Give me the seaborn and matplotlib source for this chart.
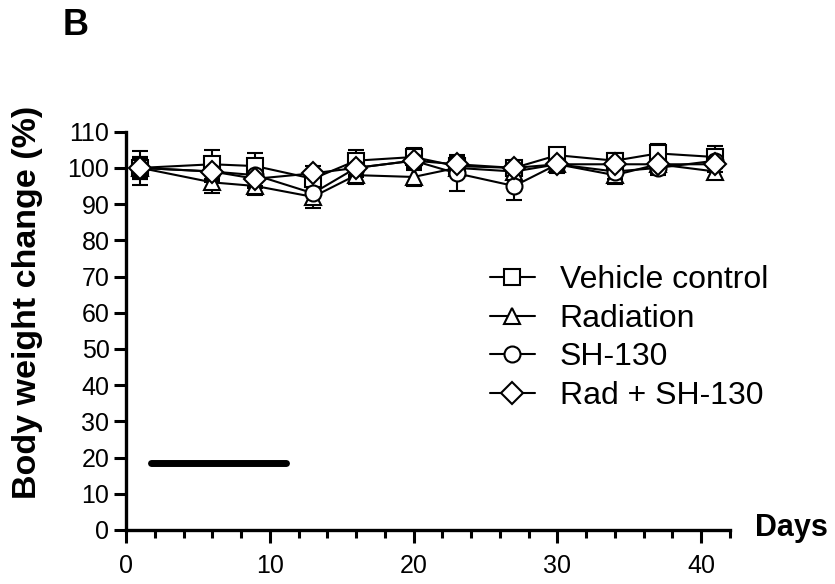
import numpy as np
import pandas as pd
import matplotlib
matplotlib.use("Agg")
import matplotlib.pyplot as plt
from matplotlib.ticker import MultipleLocator
import seaborn as sns

# 測定日
days = [1, 6, 9, 13, 16, 20, 23, 27, 30, 34, 37, 41]

# 体重変化(%) 平均値
vehicle = [100, 101, 100.5, 97, 102, 103, 100.5, 100, 103.5, 102, 104, 103]
radiation = [100, 96, 95, 92, 98, 97.5, 100, 99, 101, 98, 101, 99]
sh130 = [100, 99, 98, 93, 100, 102, 98.5, 95, 101, 99, 100, 102]
rad_sh130 = [100, 99, 97, 98.5, 100, 102, 101, 100, 101, 101, 101, 101]

# 誤差 (SEM)
vehicle_err = [4.7, 4, 3.5, 2, 3, 2.5, 2, 2, 2, 2, 2.5, 3]
radiation_err = [3, 3, 2.5, 3, 2.5, 2.5, 2, 2, 2.5, 2.5, 2.5, 2]
sh130_err = [3, 3, 3, 3, 2.5, 2.5, 5, 4, 2, 2, 2, 2]
rad_sh130_err = [2.5, 2.5, 2.5, 2, 2, 2, 2, 2, 2, 2, 2, 2]

groups = ["Vehicle control", "Radiation", "SH-130", "Rad + SH-130"]
group_markers = {"Vehicle control": "s", "Radiation": "^", "SH-130": "o", "Rad + SH-130": "D"}

# 投与期間バー
bar_start, bar_end, bar_y = 1.7, 11.1, 18.5

means = [vehicle, radiation, sh130, rad_sh130]
errs = [vehicle_err, radiation_err, sh130_err, rad_sh130_err]

df = pd.concat([
    pd.DataFrame({"Day": days, "Weight": m, "Err": e, "Group": g})
    for g, m, e in zip(groups, means, errs)
], ignore_index=True)

sns.set_style("ticks", {"text.color": "black", "axes.labelcolor": "black",
                        "xtick.color": "black", "ytick.color": "black",
                        "axes.edgecolor": "black"})
plt.rcParams["font.family"] = ["Liberation Sans", "DejaVu Sans"]

fig = plt.figure(figsize=(8.35, 5.84), dpi=100)
ax = fig.add_axes([0.151, 0.0925, 0.723, 0.682])

# エラーバー
for g in groups:
    sub = df[df["Group"] == g]
    ax.errorbar(sub["Day"], sub["Weight"], yerr=sub["Err"], fmt="none",
                ecolor="black", elinewidth=1.5, capsize=6, capthick=1.5, zorder=2)

sns.lineplot(data=df, x="Day", y="Weight", style="Group", markers=group_markers,
             dashes=False, color="black", linewidth=1.5, markersize=11.5,
             markerfacecolor="white", markeredgecolor="black", markeredgewidth=1.5,
             ax=ax, zorder=3)

ax.plot([bar_start, bar_end], [bar_y, bar_y], color="black", lw=5,
        solid_capstyle="round")

ax.set_xlim(0, 42)
ax.set_ylim(0, 110)
ax.xaxis.set_major_locator(MultipleLocator(10))
ax.xaxis.set_minor_locator(MultipleLocator(2))
ax.yaxis.set_major_locator(MultipleLocator(10))
ax.tick_params(axis="both", which="major", length=9, width=2.2, labelsize=18,
               direction="out", colors="black")
ax.tick_params(axis="x", which="minor", length=5.5, width=2.2, direction="out", colors="black")
ax.tick_params(axis="x", pad=8)
ax.tick_params(axis="y", pad=3)
sns.despine(ax=ax)
for s in ["left", "bottom"]:
    ax.spines[s].set_linewidth(2.4)
    ax.spines[s].set_color("black")

ax.set_xlabel("")
ax.set_ylabel("Body weight change (%)", fontsize=24.5, fontweight="bold", color="black")
ax.yaxis.set_label_coords(-0.137, 0.572)
fig.text(0.904, 0.096, "Days", fontsize=22, fontweight="bold", ha="left", va="center", color="black")
fig.text(0.075, 0.957, "B", fontsize=26, fontweight="bold", ha="left", va="center", color="black")

handles, labels = ax.get_legend_handles_labels()
leg = ax.legend(handles, labels, loc="upper left", bbox_to_anchor=(0.603, 0.665),
                frameon=False, fontsize=23, handlelength=1.4, handletextpad=0.78,
                labelspacing=0.27, borderaxespad=0, borderpad=0)
for t in leg.get_texts():
    t.set_color("black")

fig.savefig("out.png", dpi=100)
